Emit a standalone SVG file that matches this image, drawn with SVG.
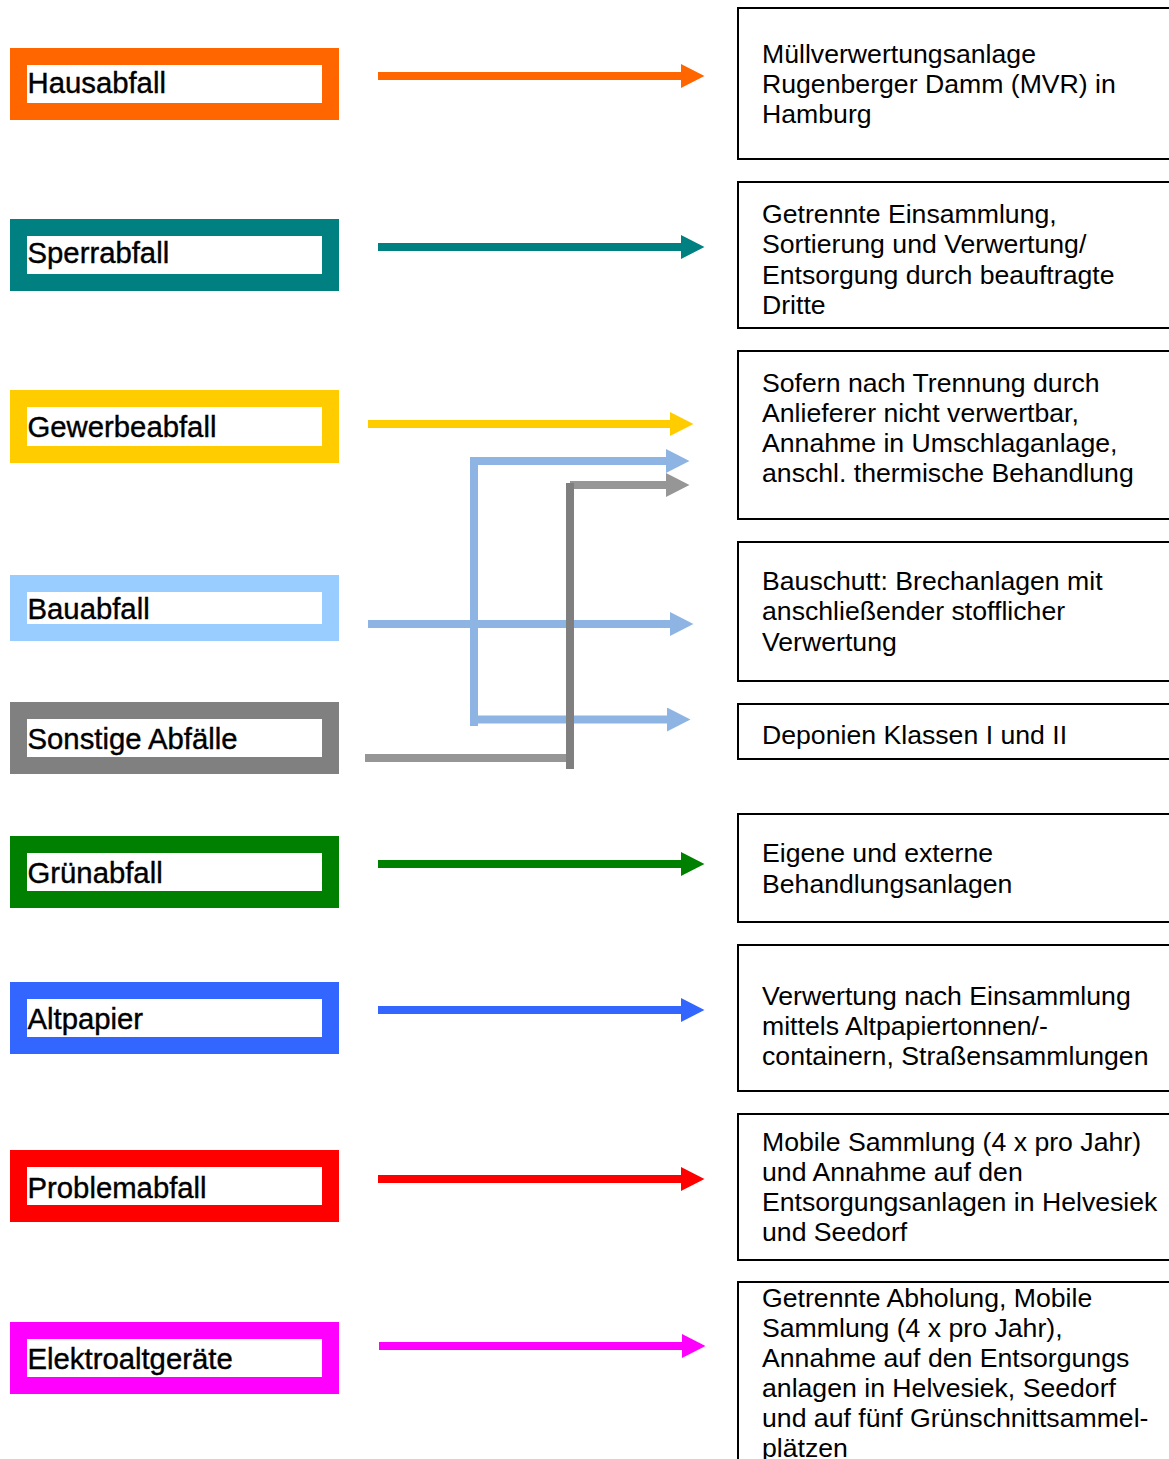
<svg xmlns="http://www.w3.org/2000/svg" width="1169" height="1459" viewBox="0 0 1169 1459">
<style>
.lbl{font-family:"Liberation Sans",Arial,sans-serif;font-size:29.3px;fill:#000;stroke:#000;stroke-width:0.4}
.txt{font-family:"Liberation Sans",Arial,sans-serif;font-size:26.65px;fill:#000}
.inner{fill:#fff}
.dest{fill:#fff;stroke:#000;stroke-width:2}
.ln{fill:none;stroke-width:8;stroke-linejoin:miter}
</style>
<defs>
<marker id="mOrange" markerUnits="userSpaceOnUse" markerWidth="24" markerHeight="24" viewBox="0 0 23 23.5" refX="0" refY="11.75" orient="auto"><path d="M0,0 L23,11.75 L0,23.5z" fill="#ff6600"/></marker>
<marker id="mTeal" markerUnits="userSpaceOnUse" markerWidth="24" markerHeight="24" viewBox="0 0 23 23.5" refX="0" refY="11.75" orient="auto"><path d="M0,0 L23,11.75 L0,23.5z" fill="#008080"/></marker>
<marker id="mYellow" markerUnits="userSpaceOnUse" markerWidth="24" markerHeight="24" viewBox="0 0 23 23.5" refX="0" refY="11.75" orient="auto"><path d="M0,0 L23,11.75 L0,23.5z" fill="#ffcc00"/></marker>
<marker id="mLBlue" markerUnits="userSpaceOnUse" markerWidth="24" markerHeight="24" viewBox="0 0 23 23.5" refX="0" refY="11.75" orient="auto"><path d="M0,0 L23,11.75 L0,23.5z" fill="#8eb4e3"/></marker>
<marker id="mGray" markerUnits="userSpaceOnUse" markerWidth="24" markerHeight="24" viewBox="0 0 23 23.5" refX="0" refY="11.75" orient="auto"><path d="M0,0 L23,11.75 L0,23.5z" fill="#969696"/></marker>
<marker id="mGreen" markerUnits="userSpaceOnUse" markerWidth="24" markerHeight="24" viewBox="0 0 23 23.5" refX="0" refY="11.75" orient="auto"><path d="M0,0 L23,11.75 L0,23.5z" fill="#008000"/></marker>
<marker id="mBlue" markerUnits="userSpaceOnUse" markerWidth="24" markerHeight="24" viewBox="0 0 23 23.5" refX="0" refY="11.75" orient="auto"><path d="M0,0 L23,11.75 L0,23.5z" fill="#3366ff"/></marker>
<marker id="mRed" markerUnits="userSpaceOnUse" markerWidth="24" markerHeight="24" viewBox="0 0 23 23.5" refX="0" refY="11.75" orient="auto"><path d="M0,0 L23,11.75 L0,23.5z" fill="#ff0000"/></marker>
<marker id="mMagenta" markerUnits="userSpaceOnUse" markerWidth="24" markerHeight="24" viewBox="0 0 23 23.5" refX="0" refY="11.75" orient="auto"><path d="M0,0 L23,11.75 L0,23.5z" fill="#ff00ff"/></marker>
</defs>
<rect width="1169" height="1459" fill="#fff"/>

<!-- source nodes -->
<g id="hausabfall"><rect x="10" y="48" width="329" height="72" fill="#ff6600"/><rect class="inner" x="27" y="65" width="295" height="38"/><text class="lbl" x="27.5" y="92.5">Hausabfall</text></g>
<g id="sperrabfall"><rect x="10" y="219" width="329" height="72" fill="#008080"/><rect class="inner" x="27" y="236" width="295" height="38"/><text class="lbl" x="27.5" y="262.5">Sperrabfall</text></g>
<g id="gewerbeabfall"><rect x="10" y="390" width="329" height="73" fill="#ffcc00"/><rect class="inner" x="27" y="407" width="295" height="39"/><text class="lbl" x="27.5" y="437">Gewerbeabfall</text></g>
<g id="bauabfall"><rect x="10" y="575" width="329" height="66" fill="#99ccff"/><rect class="inner" x="27" y="592" width="295" height="32"/><text class="lbl" x="27.5" y="619">Bauabfall</text></g>
<g id="sonstige"><rect x="10" y="702" width="329" height="72" fill="#808080"/><rect class="inner" x="27" y="719" width="295" height="38"/><text class="lbl" x="27.5" y="749">Sonstige Abfälle</text></g>
<g id="gruenabfall"><rect x="10" y="836" width="329" height="72" fill="#008000"/><rect class="inner" x="27" y="853" width="295" height="38"/><text class="lbl" x="27.5" y="882.5">Grünabfall</text></g>
<g id="altpapier"><rect x="10" y="982" width="329" height="72" fill="#3366ff"/><rect class="inner" x="27" y="999" width="295" height="38"/><text class="lbl" x="27.5" y="1028.5">Altpapier</text></g>
<g id="problemabfall"><rect x="10" y="1150" width="329" height="72" fill="#ff0000"/><rect class="inner" x="27" y="1167" width="295" height="38"/><text class="lbl" x="27.5" y="1197.5">Problemabfall</text></g>
<g id="elektroaltgeraete"><rect x="10" y="1322" width="329" height="72" fill="#ff00ff"/><rect class="inner" x="27" y="1339" width="295" height="38"/><text class="lbl" x="27.5" y="1368.5">Elektroaltgeräte</text></g>

<!-- destination nodes -->
<g id="dest-mvr"><rect class="dest" x="738" y="8" width="460" height="151"/><text class="txt"><tspan x="762" y="63">Müllverwertungsanlage</tspan><tspan x="762" y="93">Rugenberger Damm (MVR) in</tspan><tspan x="762" y="123">Hamburg</tspan></text></g>
<g id="dest-dritte"><rect class="dest" x="738" y="182" width="460" height="146"/><text class="txt"><tspan x="762" y="223">Getrennte Einsammlung,</tspan><tspan x="762" y="253">Sortierung und Verwertung/</tspan><tspan x="762" y="284">Entsorgung durch beauftragte</tspan><tspan x="762" y="314">Dritte</tspan></text></g>
<g id="dest-umschlag"><rect class="dest" x="738" y="351" width="460" height="168"/><text class="txt"><tspan x="762" y="392">Sofern nach Trennung durch</tspan><tspan x="762" y="422">Anlieferer nicht verwertbar,</tspan><tspan x="762" y="452">Annahme in Umschlaganlage,</tspan><tspan x="762" y="482">anschl. thermische Behandlung</tspan></text></g>
<g id="dest-bauschutt"><rect class="dest" x="738" y="542" width="460" height="139"/><text class="txt"><tspan x="762" y="590">Bauschutt: Brechanlagen mit</tspan><tspan x="762" y="620">anschließender stofflicher</tspan><tspan x="762" y="651">Verwertung</tspan></text></g>
<g id="dest-deponien"><rect class="dest" x="738" y="704" width="460" height="55"/><text class="txt"><tspan x="762" y="744">Deponien Klassen I und II</tspan></text></g>
<g id="dest-gruen"><rect class="dest" x="738" y="814" width="460" height="108"/><text class="txt"><tspan x="762" y="862">Eigene und externe</tspan><tspan x="762" y="893">Behandlungsanlagen</tspan></text></g>
<g id="dest-papier"><rect class="dest" x="738" y="945" width="460" height="146"/><text class="txt"><tspan x="762" y="1005">Verwertung nach Einsammlung</tspan><tspan x="762" y="1035">mittels Altpapiertonnen/-</tspan><tspan x="762" y="1065">containern, Straßensammlungen</tspan></text></g>
<g id="dest-problem"><rect class="dest" x="738" y="1114" width="460" height="146"/><text class="txt"><tspan x="762" y="1151">Mobile Sammlung (4 x pro Jahr)</tspan><tspan x="762" y="1181">und Annahme auf den</tspan><tspan x="762" y="1211">Entsorgungsanlagen in Helvesiek</tspan><tspan x="762" y="1241">und Seedorf</tspan></text></g>
<g id="dest-elektro"><rect class="dest" x="738" y="1282" width="460" height="300"/><text class="txt"><tspan x="762" y="1307">Getrennte Abholung, Mobile</tspan><tspan x="762" y="1337">Sammlung (4 x pro Jahr),</tspan><tspan x="762" y="1367">Annahme auf den Entsorgungs</tspan><tspan x="762" y="1397">anlagen in Helvesiek, Seedorf</tspan><tspan x="762" y="1427">und auf fünf Grünschnittsammel-</tspan><tspan x="762" y="1457">plätzen</tspan></text></g>

<!-- connectors -->
<g id="connectors">
<path class="ln" stroke="#ff6600" d="M378,76 H681" marker-end="url(#mOrange)"/>
<path class="ln" stroke="#008080" d="M378,247 H681" marker-end="url(#mTeal)"/>
<path class="ln" stroke="#ffcc00" d="M368,424 H670" marker-end="url(#mYellow)"/>
<path class="ln" stroke="#8eb4e3" d="M368,624 H670" marker-end="url(#mLBlue)"/>
<path class="ln" stroke="#8eb4e3" d="M474,726 V461 H666" marker-end="url(#mLBlue)"/>
<path class="ln" stroke="#8eb4e3" d="M474,719.5 H667" marker-end="url(#mLBlue)"/>
<path class="ln" stroke="#969696" d="M365,758 H570"/>
<path class="ln" stroke="#969696" d="M570,485 H666" marker-end="url(#mGray)"/>
<path class="ln" stroke="#7f7f7f" d="M570,769 V483"/>
<path class="ln" stroke="#008000" d="M378,864 H681" marker-end="url(#mGreen)"/>
<path class="ln" stroke="#3366ff" d="M378,1010 H681" marker-end="url(#mBlue)"/>
<path class="ln" stroke="#ff0000" d="M378,1179 H681" marker-end="url(#mRed)"/>
<path class="ln" stroke="#ff00ff" d="M379,1346 H682" marker-end="url(#mMagenta)"/>
</g>
</svg>
